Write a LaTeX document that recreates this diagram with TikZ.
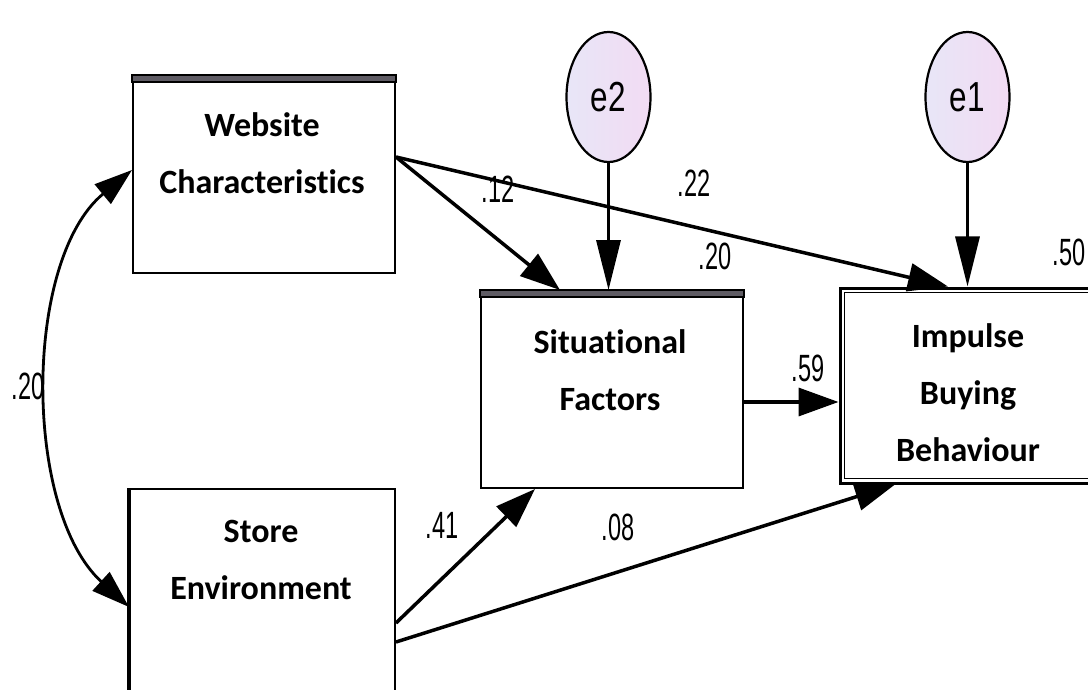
\documentclass[tikz,border=0pt]{standalone}
\usepackage{fontspec}
\setmainfont{Liberation Sans}
\newfontfamily\boxfont[Ligatures={NoCommon}]{Carlito}
\usetikzlibrary{arrows.meta,calc,shapes.geometric}
\definecolor{errleft}{RGB}{232,230,247}
\definecolor{errright}{RGB}{242,219,243}
\definecolor{barfill}{RGB}{95,92,100}
\newcommand\narrowtxt[2]{\scalebox{#1}[1]{#2}}

\begin{document}
\begin{tikzpicture}[x=1pt,y=-1pt,
  var/.style={draw, line width=2pt, rectangle, inner sep=0pt, fill=white},
  vartext/.style={font=\boxfont\bfseries\fontsize{34}{57}\selectfont, align=center, inner sep=0pt},
  err/.style={draw, line width=2.2pt, ellipse, minimum width=84pt, minimum height=130pt,
    left color=errleft, right color=errright, inner sep=0pt,
    font=\fontsize{42}{42}\selectfont},
  coef/.style={font=\fontsize{38}{38}\selectfont, inner sep=0pt},
  effect/.style={line width=3.5pt, -{Triangle[length=40pt,width=28pt]}},
  erreffect/.style={line width=3.2pt, -{Triangle[length=50pt,width=24pt]}},
  cov/.style={line width=2.8pt, {Triangle[length=38pt,width=25pt]}-{Triangle[length=38pt,width=25pt]}},
]
\useasboundingbox (0,0) rectangle (1088,690);

% observed variables
\node[var, minimum width=262pt, minimum height=197pt] (wc) at (264,174.5) {};
\filldraw[fill=barfill, line width=1.2pt] (wc.north west) rectangle ([yshift=-7pt]wc.north east);
\node[vartext] (wct) at (262,153) {Website\\Characteristics};

\node[var, minimum width=262pt, minimum height=197pt] (sf) at (612,389.5) {};
\filldraw[fill=barfill, line width=1.2pt] (sf.north west) rectangle ([yshift=-7pt]sf.north east);
\node[vartext] (sft) at (610,370) {Situational\\Factors};

\node[var, minimum width=265pt, minimum height=240pt] (se) at (262.5,609) {};
\draw[line width=3.2pt] (se.north west) -- (se.south west);
\node[vartext] (set) at (261,560) {Store\\Environment};

\node[var, line width=3pt, minimum width=262pt, minimum height=195pt] (ib) at (971,385.5) {};
\draw[line width=1.2pt] ([shift={(6pt,-6pt)}]ib.north west) rectangle ([shift={(-6pt,6pt)}]ib.south east);
\node[vartext] (ibt) at (968,393) {Impulse\\Buying\\Behaviour};

% error terms
\node[err] (e2) at (608.5,97) {\narrowtxt{0.75}{e2}};
\node[err] (e1) at (967.5,97) {\narrowtxt{0.75}{e1}};

% regression paths
\draw[effect] ([yshift=17.5pt]wc.east) -- ([xshift=-52pt]sf.north);
\draw[effect] ([yshift=17.5pt]wc.east) -- ([xshift=-23pt]ib.north);
\draw[effect] ([yshift=-14pt]se.east) -- ([xshift=-77pt]sf.south);
\draw[effect] ([yshift=-33pt]se.east) -- ([xshift=-76pt]ib.south);
\draw[effect] ([yshift=-12.5pt]sf.east) -- ([yshift=-16.5pt]ib.west);
\draw[erreffect] (e2.south) -- (e2.south |- sf.north);
\draw[erreffect] (e1.south) -- (e1.south |- ib.north);

% covariance
\draw[cov] ([yshift=4.5pt]wc.west) .. controls (23,260) and (23,510) .. ([yshift=2pt]se.west);

% estimates
\node[coef] (ccov) at (28,386) {\narrowtxt{0.62}{.20}};
\node[coef] (c12) at (498,189) {\narrowtxt{0.62}{.12}};
\node[coef] (c22) at (694,183) {\narrowtxt{0.62}{.22}};
\node[coef] (rsf) at (715,256) {\narrowtxt{0.62}{.20}};
\node[coef] (rib) at (1069,252) {\narrowtxt{0.62}{.50}};
\node[coef] (c59) at (808,368) {\narrowtxt{0.62}{.59}};
\node[coef] (c41) at (442,525) {\narrowtxt{0.62}{.41}};
\node[coef] (c08) at (618,527) {\narrowtxt{0.62}{.08}};
\end{tikzpicture}
\end{document}
